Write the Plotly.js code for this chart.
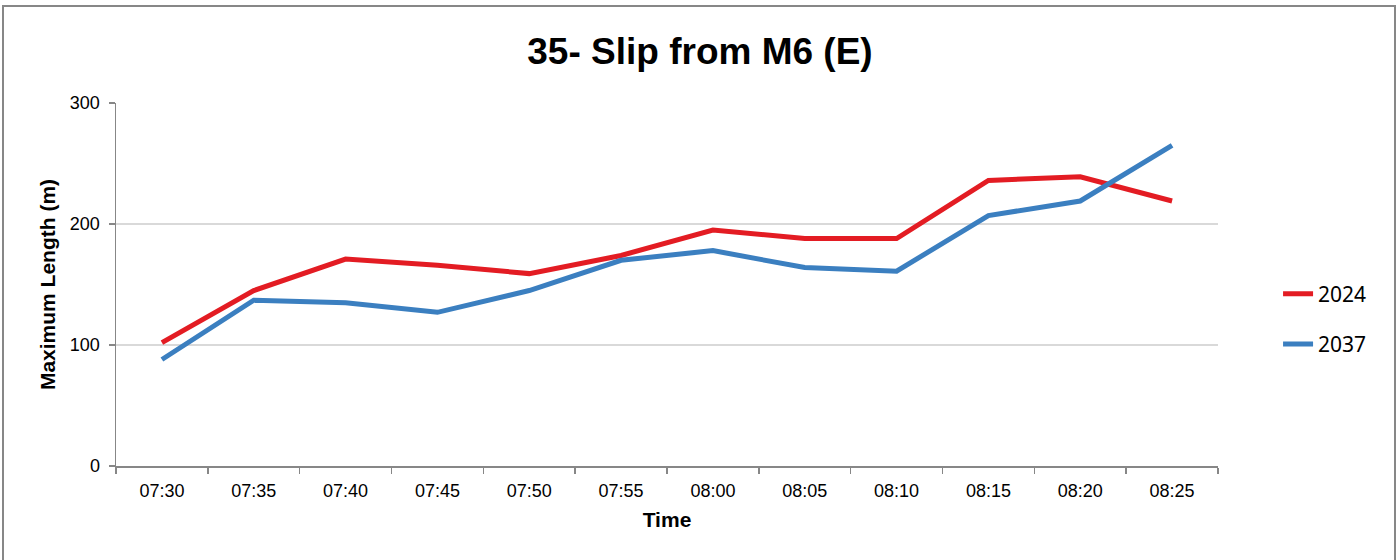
<!DOCTYPE html>
<html>
<head>
<meta charset="utf-8">
<script src="https://cdn.plot.ly/plotly-3.0.1.min.js"></script>
<style>
  html, body { margin: 0; padding: 0; background: #fff; overflow: hidden; }
  #wrap { position: relative; width: 1400px; height: 560px; }
  #chart { width: 1400px; height: 560px; }
  #frame { position: absolute; left: 2px; top: 5px; width: 1394px; height: 600px;
           border: 2px solid #878787; pointer-events: none; box-sizing: border-box; }
</style>
</head>
<body>
<div id="wrap">
  <div id="chart"></div>
  <div id="frame"></div>
</div>
<script>
const times = ["07:30","07:35","07:40","07:45","07:50","07:55","08:00","08:05","08:10","08:15","08:20","08:25"];
const series2024 = [102, 145, 171, 166, 159, 174, 195, 188, 188, 236, 239, 219];
const series2037 = [88, 137, 135, 127, 145, 170, 178, 164, 161, 207, 219, 265];
const yTicks = [0, 100, 200, 300];

const traces = [
  { x: times, y: series2024, name: "2024", type: "scatter", mode: "lines",
    line: { color: "#e31c23", width: 5 }, legendgroup: "a" },
  { x: times, y: series2037, name: "2037", type: "scatter", mode: "lines",
    line: { color: "#3b7fc0", width: 5 }, legendgroup: "b" }
];

const layout = {
  width: 1400, height: 560,
  paper_bgcolor: "#ffffff", plot_bgcolor: "#ffffff",
  margin: { l: 116, r: 182, t: 103, b: 94 },
  font: { family: "Arial, 'Liberation Sans', sans-serif", color: "#000" },
  title: { text: "<b>35- Slip from M6 (E)</b>", x: 0.5, xref: "container", xanchor: "center",
           y: 52, yref: "container", yanchor: "middle",
           font: { size: 37, family: "Arial, 'Liberation Sans', sans-serif", color: "#000" } },
  xaxis: {
    type: "category", range: [-0.5, times.length - 0.5], tickson: "boundaries",
    ticks: "outside", ticklen: 6,
    tickcolor: "#878787", tickwidth: 1.5, showline: true, linecolor: "#878787", linewidth: 1.5,
    showgrid: false, zeroline: false, tickfont: { size: 18 }, ticklabelstandoff: 8,
    title: { text: "<b>Time</b>", font: { size: 21 }, standoff: 12 }
  },
  yaxis: {
    range: [0, 300], tickvals: yTicks, ticks: "outside", ticklen: 6,
    tickcolor: "#878787", tickwidth: 1.5, showline: true, linecolor: "#878787", linewidth: 1.5,
    showgrid: true, gridcolor: "#d9d9d9", gridwidth: 1.5, zeroline: false,
    tickfont: { size: 18 }, ticklabelstandoff: 5,
    title: { text: "<b>Maximum Length (m)</b>", font: { size: 21 }, standoff: 8 }
  },
  showlegend: true,
  legend: { x: 1.0545, xref: "paper", xanchor: "left", y: 0.405, yanchor: "middle",
            font: { size: 21, family: "'Noto Sans', 'Open Sans', sans-serif", color: "#000" },
            tracegroupgap: 20, bgcolor: "rgba(0,0,0,0)" }
};

Plotly.newPlot("chart", traces, layout, { displayModeBar: false, staticPlot: true });
</script>
</body>
</html>
